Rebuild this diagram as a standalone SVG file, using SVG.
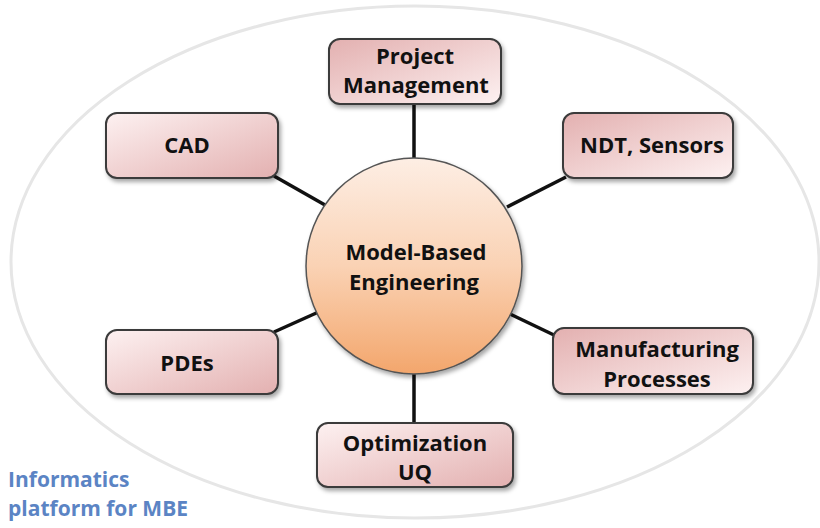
<svg xmlns="http://www.w3.org/2000/svg" width="820" height="528" viewBox="0 0 820 528">
<defs>
<linearGradient id="boxg" x1="0" y1="0" x2="1" y2="1">
<stop offset="0" stop-color="#fdf1f1"/>
<stop offset="1" stop-color="#e3b0b0"/>
</linearGradient>
<linearGradient id="boxg2" x1="1" y1="1" x2="0" y2="0">
<stop offset="0" stop-color="#fdf1f1"/>
<stop offset="1" stop-color="#e3b0b0"/>
</linearGradient>
<linearGradient id="circg" x1="0" y1="0" x2="0" y2="1">
<stop offset="0" stop-color="#fdeee4"/>
<stop offset="0.5" stop-color="#fad2b4"/>
<stop offset="1" stop-color="#f3a66c"/>
</linearGradient>
<filter id="sh" x="-10%" y="-10%" width="130%" height="140%">
<feDropShadow dx="2" dy="3" stdDeviation="2" flood-color="#000" flood-opacity="0.35"/>
</filter>
</defs>
<style>
.box{stroke:#3a3a3a;stroke-width:2;filter:url(#sh)}
.lbl{font-family:"Open Sans","Liberation Sans",sans-serif;font-weight:bold;font-size:22px;fill:#111;text-anchor:middle}
.conn{stroke:#111;stroke-width:3.5;fill:none}
.cap{font-family:"Open Sans","Liberation Sans",sans-serif;font-weight:bold;font-size:21px;fill:#5b84c4}
</style>
<rect width="820" height="528" fill="#fff"/>
<ellipse cx="415" cy="262" rx="404" ry="256" fill="none" stroke="#e6e6e6" stroke-width="3"/>
<g id="connectors">
<line class="conn" x1="414" y1="105" x2="414" y2="158"/>
<line class="conn" x1="274" y1="176" x2="325" y2="205"/>
<line class="conn" x1="566" y1="177" x2="507" y2="207"/>
<line class="conn" x1="274" y1="332" x2="323" y2="310"/>
<line class="conn" x1="556" y1="336" x2="510" y2="314"/>
<line class="conn" x1="414" y1="374" x2="414" y2="424"/>
</g>
<g id="pm">
<rect class="box" x="329" y="39" width="172" height="65" rx="11" fill="url(#boxg2)"/>
<text class="lbl" x="415" y="64">Project</text>
<text class="lbl" x="416" y="93">Management</text>
</g>
<g id="cad">
<rect class="box" x="106" y="113" width="172" height="65" rx="11" fill="url(#boxg)"/>
<text class="lbl" x="187" y="153">CAD</text>
</g>
<g id="ndt">
<rect class="box" x="563" y="113" width="170" height="65" rx="11" fill="url(#boxg2)"/>
<text class="lbl" x="652" y="153">NDT, Sensors</text>
</g>
<g id="mbe">
<circle cx="414" cy="266" r="108" fill="url(#circg)" stroke="#555" stroke-width="1.5" filter="url(#sh)"/>
<text class="lbl" x="416" y="260">Model-Based</text>
<text class="lbl" x="414" y="290">Engineering</text>
</g>
<g id="pdes">
<rect class="box" x="106" y="330" width="172" height="64" rx="11" fill="url(#boxg)"/>
<text class="lbl" x="187" y="371">PDEs</text>
</g>
<g id="mfg">
<rect class="box" x="553" y="328" width="200" height="66" rx="11" fill="url(#boxg2)"/>
<text class="lbl" x="657" y="357">Manufacturing</text>
<text class="lbl" x="657" y="387">Processes</text>
</g>
<g id="opt">
<rect class="box" x="317" y="423" width="196" height="64" rx="11" fill="url(#boxg)"/>
<text class="lbl" x="415" y="451">Optimization</text>
<text class="lbl" x="415" y="480">UQ</text>
</g>
<g id="caption">
<text class="cap" x="8" y="487">Informatics</text>
<text class="cap" x="8" y="516">platform for MBE</text>
</g>
</svg>
